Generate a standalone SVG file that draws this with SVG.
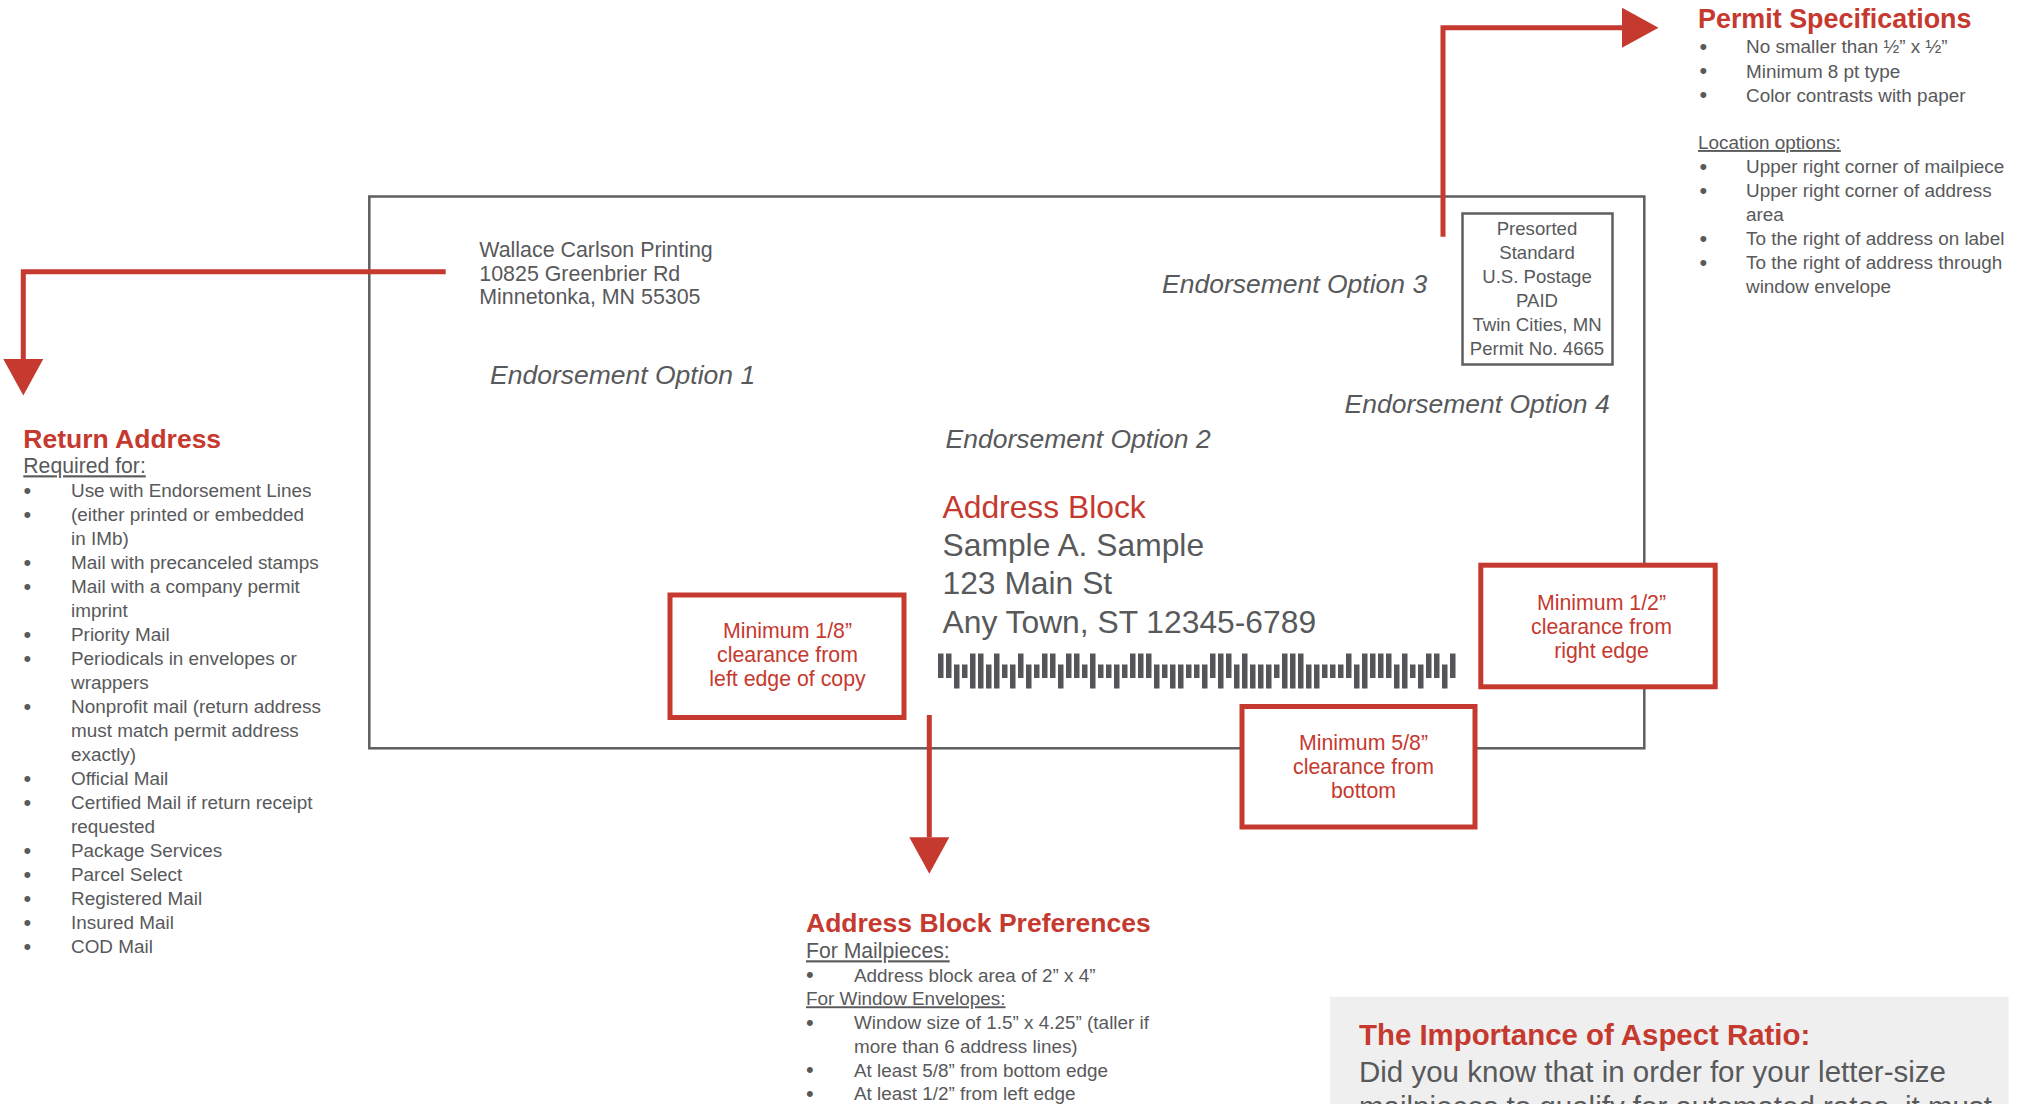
<svg xmlns="http://www.w3.org/2000/svg" xmlns:xlink="http://www.w3.org/1999/xlink" width="2023" height="1104" viewBox="0 0 2023 1104">
<style>
text{font-family:"Liberation Sans",Arial,Helvetica,sans-serif;fill:#58595b}
.red{fill:#c5392f}
.title{font-weight:bold;font-size:26.5px}
.li{font-size:18.9px}
.big{font-size:21.2px}
.bu{font-size:22px}
.ul{text-decoration:underline}
.env{font-size:21.4px}
.endo{font-style:italic;font-size:26.5px}
.addr{font-size:31.8px}
.post{font-size:18.6px;text-anchor:middle}
.note{font-size:21.3px;text-anchor:middle}
.frame{fill:#fff;stroke:#5d5e60;stroke-width:2.5}
.redbox{fill:#fff;stroke:#c5392f;stroke-width:5}
.conn{fill:none;stroke:#c5392f;stroke-width:5}
.bar{fill:#545559}
</style>
<defs>
<marker id="ah" markerUnits="userSpaceOnUse" markerWidth="40" markerHeight="40" refX="0" refY="20" orient="auto" viewBox="0 0 40 40">
<path d="M0,0 L36.5,20 L0,40 Z" fill="#c5392f"/>
</marker>
<rect id="bF" class="bar" y="653.5" width="5.5" height="35"/>
<rect id="bA" class="bar" y="653.5" width="5.5" height="24.5"/>
<rect id="bD" class="bar" y="664.5" width="5.5" height="24"/>
<rect id="bT" class="bar" y="664.5" width="5.5" height="13.5"/>
</defs>
<rect width="2023" height="1104" fill="#fff"/>

<g id="envelope">
<rect class="frame" x="369.3" y="196.5" width="1275" height="551.8"/>
</g>

<g id="return-address">
<text class="env" x="479.3" y="257.3">Wallace Carlson Printing</text>
<text class="env" x="479.3" y="280.7">10825 Greenbrier Rd</text>
<text class="env" x="479.3" y="304.3">Minnetonka, MN 55305</text>
</g>

<g id="postage-indicia">
<rect class="frame" x="1462.5" y="213.5" width="150" height="151"/>
<text class="post" x="1537" y="235">Presorted</text>
<text class="post" x="1537" y="259">Standard</text>
<text class="post" x="1537" y="283">U.S. Postage</text>
<text class="post" x="1537" y="307">PAID</text>
<text class="post" x="1537" y="331">Twin Cities, MN</text>
<text class="post" x="1537" y="355">Permit No. 4665</text>
</g>

<g id="endorsements">
<text class="endo" x="490" y="384">Endorsement Option 1</text>
<text class="endo" x="945.5" y="447.7">Endorsement Option 2</text>
<text class="endo" x="1162" y="293.3">Endorsement Option 3</text>
<text class="endo" x="1344.5" y="413.3">Endorsement Option 4</text>
</g>

<g id="address-block">
<text class="addr red" x="942.5" y="517.5">Address Block</text>
<text class="addr" x="942.5" y="555.5">Sample A. Sample</text>
<text class="addr" x="942.5" y="594">123 Main St</text>
<text class="addr" x="942.5" y="632.5">Any Town, ST 12345-6789</text>
</g>

<g id="barcode">
<use href="#bA" x="938"/><use href="#bA" x="946"/><use href="#bD" x="954"/><use href="#bT" x="962"/>
<use href="#bF" x="970"/><use href="#bF" x="978"/><use href="#bD" x="986"/><use href="#bF" x="994"/>
<use href="#bT" x="1002"/><use href="#bD" x="1010"/><use href="#bA" x="1018"/><use href="#bD" x="1026"/>
<use href="#bT" x="1034"/><use href="#bA" x="1042"/><use href="#bA" x="1050"/><use href="#bD" x="1058"/>
<use href="#bA" x="1066"/><use href="#bA" x="1074"/><use href="#bT" x="1082"/><use href="#bF" x="1090"/>
<use href="#bT" x="1098"/><use href="#bT" x="1106"/><use href="#bD" x="1114"/><use href="#bT" x="1122"/>
<use href="#bA" x="1130"/><use href="#bA" x="1138"/><use href="#bA" x="1146"/><use href="#bD" x="1154"/>
<use href="#bT" x="1162"/><use href="#bD" x="1170"/><use href="#bD" x="1178"/><use href="#bT" x="1186"/>
<use href="#bT" x="1194"/><use href="#bD" x="1202"/><use href="#bA" x="1210"/><use href="#bF" x="1218"/>
<use href="#bA" x="1226"/><use href="#bD" x="1234"/><use href="#bF" x="1242"/><use href="#bD" x="1250"/>
<use href="#bD" x="1258"/><use href="#bD" x="1266"/><use href="#bT" x="1274"/><use href="#bF" x="1282"/>
<use href="#bF" x="1290"/><use href="#bF" x="1298"/><use href="#bD" x="1306"/><use href="#bD" x="1314"/>
<use href="#bT" x="1322"/><use href="#bT" x="1330"/><use href="#bT" x="1338"/><use href="#bA" x="1346"/>
<use href="#bD" x="1354"/><use href="#bF" x="1362"/><use href="#bA" x="1370"/><use href="#bA" x="1378"/>
<use href="#bA" x="1386"/><use href="#bD" x="1394"/><use href="#bF" x="1402"/><use href="#bT" x="1410"/>
<use href="#bD" x="1418"/><use href="#bA" x="1426"/><use href="#bA" x="1434"/><use href="#bD" x="1442"/>
<use href="#bA" x="1450"/>
</g>

<g id="connectors">
<path class="conn" d="M445.7,271.7 H23.3 V359" marker-end="url(#ah)"/>
<path class="conn" d="M1443,236.7 V27.7 H1622" marker-end="url(#ah)"/>
<path class="conn" d="M929.3,715 V837.3" marker-end="url(#ah)"/>
</g>

<g id="note-left-clearance">
<rect class="redbox" x="670" y="595" width="234" height="122.5"/>
<text class="note red" x="787.5" y="638">Minimum 1/8”</text>
<text class="note red" x="787.5" y="662">clearance from</text>
<text class="note red" x="787.5" y="686">left edge of copy</text>
</g>

<g id="note-right-clearance">
<rect class="redbox" x="1480.8" y="565.2" width="234.4" height="121.6"/>
<text class="note red" x="1601.5" y="610">Minimum 1/2”</text>
<text class="note red" x="1601.5" y="634">clearance from</text>
<text class="note red" x="1601.5" y="658">right edge</text>
</g>

<g id="note-bottom-clearance">
<rect class="redbox" x="1242" y="706.5" width="233" height="120.5"/>
<text class="note red" x="1363.5" y="750">Minimum 5/8”</text>
<text class="note red" x="1363.5" y="774">clearance from</text>
<text class="note red" x="1363.5" y="798">bottom</text>
</g>

<g id="permit-specifications">
<text class="title red" x="1698" y="28.3" style="font-size:26.9px">Permit Specifications</text>
<text class="bu" x="1699.5" y="54">•</text><text class="li" x="1746" y="53.3">No smaller than ½” x ½”</text>
<text class="bu" x="1699.5" y="78">•</text><text class="li" x="1746" y="77.5">Minimum 8 pt type</text>
<text class="bu" x="1699.5" y="102">•</text><text class="li" x="1746" y="101.7">Color contrasts with paper</text>
<text class="li ul" x="1698" y="149">Location options:</text>
<text class="bu" x="1699.5" y="174">•</text><text class="li" x="1746" y="173.3">Upper right corner of mailpiece</text>
<text class="bu" x="1699.5" y="198">•</text><text class="li" x="1746" y="197.3">Upper right corner of address</text>
<text class="li" x="1746" y="221">area</text>
<text class="bu" x="1699.5" y="245.5">•</text><text class="li" x="1746" y="245">To the right of address on label</text>
<text class="bu" x="1699.5" y="270">•</text><text class="li" x="1746" y="269.3">To the right of address through</text>
<text class="li" x="1746" y="293.3">window envelope</text>
</g>

<g id="return-address-requirements">
<text class="title red" x="23.3" y="448.3">Return Address</text>
<text class="big ul" x="23.3" y="473.3">Required for:</text>
<text class="bu" x="23.5" y="497.5">•</text><text class="li" x="71" y="497">Use with Endorsement Lines</text>
<text class="bu" x="23.5" y="521.5">•</text><text class="li" x="71" y="521">(either printed or embedded</text>
<text class="li" x="71" y="545">in IMb)</text>
<text class="bu" x="23.5" y="569.5">•</text><text class="li" x="71" y="569">Mail with precanceled stamps</text>
<text class="bu" x="23.5" y="593.5">•</text><text class="li" x="71" y="593">Mail with a company permit</text>
<text class="li" x="71" y="617">imprint</text>
<text class="bu" x="23.5" y="641.5">•</text><text class="li" x="71" y="641">Priority Mail</text>
<text class="bu" x="23.5" y="665.5">•</text><text class="li" x="71" y="665">Periodicals in envelopes or</text>
<text class="li" x="71" y="689">wrappers</text>
<text class="bu" x="23.5" y="713.5">•</text><text class="li" x="71" y="713">Nonprofit mail (return address</text>
<text class="li" x="71" y="737">must match permit address</text>
<text class="li" x="71" y="761">exactly)</text>
<text class="bu" x="23.5" y="785.5">•</text><text class="li" x="71" y="785">Official Mail</text>
<text class="bu" x="23.5" y="809.5">•</text><text class="li" x="71" y="809">Certified Mail if return receipt</text>
<text class="li" x="71" y="833">requested</text>
<text class="bu" x="23.5" y="857.5">•</text><text class="li" x="71" y="857">Package Services</text>
<text class="bu" x="23.5" y="881.5">•</text><text class="li" x="71" y="881">Parcel Select</text>
<text class="bu" x="23.5" y="905.5">•</text><text class="li" x="71" y="905">Registered Mail</text>
<text class="bu" x="23.5" y="929.5">•</text><text class="li" x="71" y="929">Insured Mail</text>
<text class="bu" x="23.5" y="953.5">•</text><text class="li" x="71" y="953">COD Mail</text>
</g>

<g id="address-block-preferences">
<text class="title red" x="806" y="932.3">Address Block Preferences</text>
<text class="big ul" x="806" y="958.3">For Mailpieces:</text>
<text class="bu" x="806" y="982">•</text><text class="li" x="854" y="981.5">Address block area of 2” x 4”</text>
<text class="li ul" x="806" y="1005.3">For Window Envelopes:</text>
<text class="bu" x="806" y="1030">•</text><text class="li" x="854" y="1029.3">Window size of 1.5” x 4.25” (taller if</text>
<text class="li" x="854" y="1053">more than 6 address lines)</text>
<text class="bu" x="806" y="1077.3">•</text><text class="li" x="854" y="1076.7">At least 5/8” from bottom edge</text>
<text class="bu" x="806" y="1101">•</text><text class="li" x="854" y="1100.3">At least 1/2” from left edge</text>
</g>

<g id="aspect-ratio">
<rect x="1330" y="996.7" width="678.5" height="120" fill="#efefef"/>
<text class="red" x="1359" y="1045" style="font-weight:bold;font-size:29.4px">The Importance of Aspect Ratio:</text>
<text x="1359" y="1081.7" style="font-size:29.5px">Did you know that in order for your letter-size</text>
<text x="1359" y="1117" style="font-size:29.5px">mailpieces to qualify for automated rates, it must</text>
</g>
</svg>
